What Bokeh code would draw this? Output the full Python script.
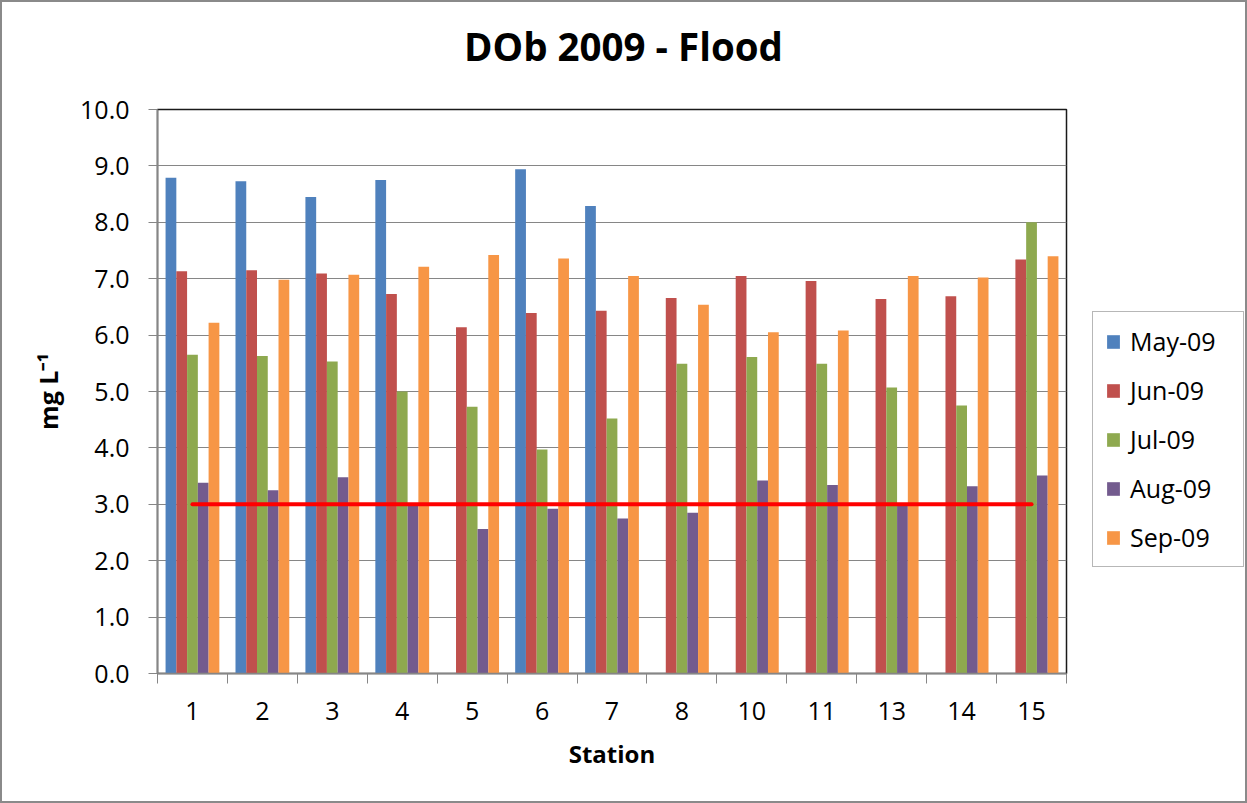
import numpy as np
from bokeh.plotting import figure
from bokeh.layouts import row, column
from bokeh.models import (ColumnDataSource, FixedTicker, PrintfTickFormatter,
                          Legend, LegendItem, Range1d, Div)
from bokeh.transform import dodge
from bokeh.embed import file_html
from bokeh.resources import INLINE

# Dissolved oxygen (bottom), mg/L, by station and sampling month
stations = ["1", "2", "3", "4", "5", "6", "7", "8", "10", "11", "13", "14", "15"]
months = ["May-09", "Jun-09", "Jul-09", "Aug-09", "Sep-09"]
nan = float("nan")
may_09 = [8.79, 8.73, 8.45, 8.75, nan, 8.94, 8.29, nan, nan, nan, nan, nan, nan]
jun_09 = [7.13, 7.15, 7.09, 6.73, 6.14, 6.39, 6.43, 6.66, 7.05, 6.96, 6.64, 6.69, 7.34]
jul_09 = [5.65, 5.63, 5.53, 5.00, 4.73, 3.97, 4.52, 5.49, 5.61, 5.49, 5.07, 4.75, 8.00]
aug_09 = [3.38, 3.25, 3.48, 3.00, 2.56, 2.92, 2.75, 2.85, 3.42, 3.34, 3.00, 3.32, 3.51]
sep_09 = [6.22, 6.98, 7.07, 7.21, 7.42, 7.36, 7.05, 6.54, 6.05, 6.08, 7.05, 7.02, 7.40]
series = [may_09, jun_09, jul_09, aug_09, sep_09]
threshold = 3.0
y_ticks = [0, 1, 2, 3, 4, 5, 6, 7, 8, 9, 10]
title = "DOb 2009 - Flood"

colors = ["#4F81BD", "#C0504D", "#8EA94F", "#735B8E", "#F79646"]
FONT = "Open Sans"

n = len(stations)
centers = np.arange(n) + 0.5
bounds = np.arange(n + 1).astype(float)

src = ColumnDataSource({"x": centers, **{m: s for m, s in zip(months, series)}})

header = Div(
    text=(f'<div style="font-family:\'{FONT}\';font-weight:bold;font-size:38.5px;'
          f'color:black;text-align:center;width:1243px;padding-top:18px;'
          f'line-height:52px;">{title}</div>'),
    width=1243, height=87, margin=0)

p = figure(width=1090, height=712, output_backend="svg", toolbar_location=None,
           x_range=Range1d(0, n), y_range=Range1d(0, 10),
           min_border_left=155, min_border_right=26,
           min_border_top=20, min_border_bottom=128, margin=0)
p.background_fill_color = "white"
p.border_fill_color = "white"
p.outline_line_color = "#1a1a1a"
p.outline_line_width = 1.5

# clustered bars: five bars per station, gap of 1.5 bar widths
bw = 1 / 6.5
for i, (m, c) in enumerate(zip(months, colors)):
    p.vbar(x=dodge("x", (i - 2) * bw, range=p.x_range), top=m, width=bw,
           bottom=0, source=src, fill_color=c, line_color=None)

# reference level
p.line(x=[centers[0], centers[-1]], y=[threshold, threshold],
       line_color="#FF0000", line_width=4, line_cap="round")

# y axis
yax = p.yaxis[0]
yax.ticker = FixedTicker(ticks=y_ticks)
yax.formatter = PrintfTickFormatter(format="%.1f")
yax.axis_label = "mg L\u207b\u00b9"
yax.axis_label_text_font = FONT
yax.axis_label_text_font_style = "bold"
yax.axis_label_text_font_size = "25px"
yax.axis_label_text_color = "black"
yax.axis_label_standoff = 12
yax.major_label_text_font = FONT
yax.major_label_text_font_size = "25px"
yax.major_label_text_color = "black"
yax.major_label_standoff = 19
yax.axis_line_color = "#868686"
yax.axis_line_width = 1.5
yax.major_tick_line_color = "#868686"
yax.major_tick_out = 9
yax.major_tick_in = 0
yax.minor_tick_line_color = None

# x axis: labels at station centres, tick marks at boundaries
xax = p.xaxis[0]
xax.ticker = FixedTicker(ticks=list(centers), minor_ticks=list(bounds))
xax.major_label_overrides = {float(c): s for c, s in zip(centers, stations)}
xax.axis_label = "Station"
xax.axis_label_text_font = FONT
xax.axis_label_text_font_style = "bold"
xax.axis_label_text_font_size = "24px"
xax.axis_label_text_color = "black"
xax.axis_label_standoff = 14
xax.major_label_text_font = FONT
xax.major_label_text_font_size = "25px"
xax.major_label_text_color = "black"
xax.major_label_standoff = 18
xax.axis_line_color = "#868686"
xax.axis_line_width = 1.5
xax.major_tick_line_color = None
xax.minor_tick_line_color = "#868686"
xax.minor_tick_out = 10
xax.minor_tick_in = 0

p.xgrid.grid_line_color = None
p.ygrid.grid_line_color = "#868686"
p.ygrid.grid_line_width = 1

# legend panel: zero-height swatch renderers carry the bar fill colours
lp = figure(width=153, height=712, output_backend="svg", toolbar_location=None,
            x_axis_type=None, y_axis_type=None,
            min_border_left=0, min_border_right=0,
            min_border_top=20, min_border_bottom=128, margin=0)
lp.outline_line_color = None
lp.xgrid.grid_line_color = None
lp.ygrid.grid_line_color = None
items = []
for m, c in zip(months, colors):
    r = lp.vbar(x=[0], top=[0], bottom=[0], width=1, fill_color=c, line_color=None)
    items.append(LegendItem(label=m, renderers=[r]))

legend = Legend(items=items, location=(0, 106), margin=0, padding=12,
                spacing=15, glyph_width=16, glyph_height=17, label_standoff=9,
                label_width=101, label_text_color="black",
                label_text_font=FONT, label_text_font_size="25px",
                border_line_color="#6f6f6f", border_line_width=1.5,
                background_fill_color="white")
lp.add_layout(legend, "center")

page = column(header, row(p, lp, spacing=0, margin=0), spacing=0, margin=0)
page.styles = {"border": "2px solid #8a8a8a", "background-color": "white"}

open("out.html", "w").write(file_html(page, INLINE))
